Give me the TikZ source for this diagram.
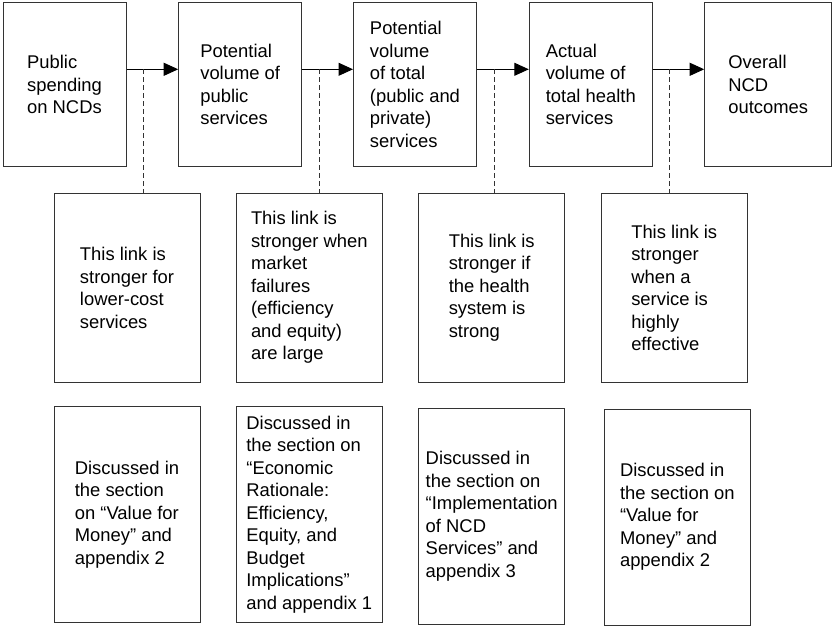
\documentclass[tikz,border=0pt]{standalone}
\usepackage{fontspec}
\setmainfont{Liberation Sans}
\usetikzlibrary{arrows.meta}
\begin{document}
\begin{tikzpicture}[x=1pt,y=-1pt,
 box/.style={draw=black!80, line width=1pt, inner sep=0pt, align=left, font=\fontsize{18.4}{22.5}\selectfont},
 topbox/.style={box, minimum width=123pt, minimum height=163pt},
 midbox/.style={box, minimum width=146pt, minimum height=188.7pt},
 botbox/.style={box, minimum width=146pt, minimum height=215.7pt},
 flow/.style={draw=black, line width=1pt, -{Triangle[length=14.5pt,width=13pt]}},
 link/.style={draw=black!80, line width=0.8pt, dash pattern=on 5pt off 3pt}]
\useasboundingbox[fill=white] (0,0) rectangle (833,626);

\node[topbox] (t1) at (64.5,84.5) {Public\\spending\\on NCDs};
\node[topbox] (t2) at (240.2,84.5) {Potential\\volume of\\public\\services};
\node[topbox] (t3) at (415,84.5) {Potential\\volume\\of total\\(public and\\private)\\services};
\node[topbox] (t4) at (590.8,84.5) {Actual\\volume of\\total health\\services};
\node[topbox, minimum width=127pt] (t5) at (768.2,84.5) {Overall\\NCD\\outcomes};

\coordinate (ay) at (0,69.3);
\draw[flow] (t1.east |- ay) -- (t2.west |- ay);
\draw[flow] (t2.east |- ay) -- (t3.west |- ay);
\draw[flow] (t3.east |- ay) -- (t4.west |- ay);
\draw[flow] (t4.east |- ay) -- (t5.west |- ay);

\coordinate (d1) at (143.3,69.3);
\coordinate (d2) at (319,69.3);
\coordinate (d3) at (494,69.3);
\coordinate (d4) at (669.7,69.3);

\node[midbox] (m1) at (127,287.7) {This link is\\stronger for\\lower-cost\\services};
\node[midbox] (m2) at (309.3,287.7) {This link is\\stronger when\\market\\failures\\(efficiency\\and equity)\\are large};
\node[midbox] (m3) at (491.7,287.7) {This link is\\stronger if\\the health\\system is\\strong};
\node[midbox] (m4) at (674.2,287.7) {This link is\\stronger\\when a\\service is\\highly\\effective};

\draw[link] (d1) -- (m1.north -| d1);
\draw[link] (d2) -- (m2.north -| d2);
\draw[link] (d3) -- (m3.north -| d3);
\draw[link] (d4) -- (m4.north -| d4);

\node[botbox] (b1) at (127,514.5) {Discussed in\\the section\\on “Value for\\Money” and\\appendix 2};
\node[botbox] (b2) at (309.3,514.5) {Discussed in\\the section on\\“Economic\\Rationale:\\Efficiency,\\Equity, and\\Budget\\Implications”\\and appendix 1};
\node[botbox] (b3) at (491.7,516.2) {Discussed in\\the section on\\“Implementation\\of NCD\\Services” and\\appendix 3};
\node[botbox] (b4) at (677.3,517.2) {Discussed in\\the section on\\“Value for\\Money” and\\appendix 2};
\end{tikzpicture}
\end{document}
